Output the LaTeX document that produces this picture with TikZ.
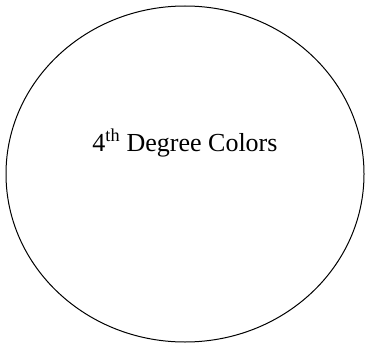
\documentclass[tikz,border=0pt]{standalone}
\usepackage{fontspec}
\setmainfont{Liberation Serif}
\usetikzlibrary{shapes.geometric}
\tikzset{
    degree/ring/.style={
        ellipse, draw=black, line width=1pt, fill=white,
        minimum width=358pt, minimum height=336pt, inner sep=0pt
    },
    degree/title/.style={
        font=\fontsize{26}{31}\selectfont, text=black, inner sep=0pt
    }
}
\begin{document}
\begin{tikzpicture}[x=1pt,y=1pt]
    \useasboundingbox (0,0) rectangle (366,346);
    \node[degree/ring] (ring) at (185,172) {};
    \node[degree/title, anchor=base] (title) at (185,195)
        {4\textsuperscript{th} Degree Colors};
\end{tikzpicture}
\end{document}
